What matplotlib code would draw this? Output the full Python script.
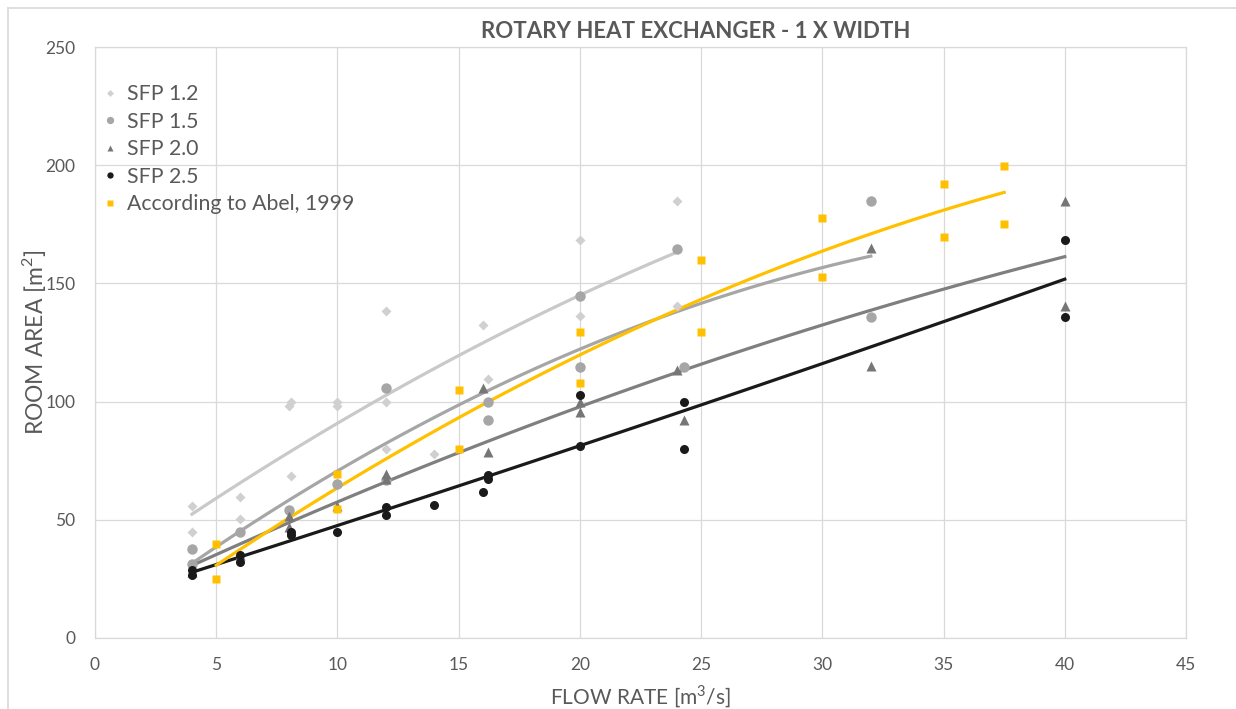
import matplotlib

matplotlib.use("Agg")
import matplotlib.pyplot as plt
import numpy as np

plt.rcParams["font.family"] = ["Lato", "DejaVu Sans"]
plt.rcParams["mathtext.fontset"] = "custom"
plt.rcParams["mathtext.rm"] = "Lato"

TEXT = "#595959"
GRID = "#d9d9d9"

# flow rate [m3/s] and room area [m2]
sfp12_x = [4, 4, 6, 6, 8, 8.1, 8.1, 10, 10, 12, 12, 12, 14, 16, 16.2, 20, 20, 24, 24]
sfp12_y = [55.8, 45, 59.8, 50.5, 98, 100, 68.7, 100, 98, 138.5, 100, 80, 77.8, 132.3, 109.4, 168.4, 136, 184.9, 140.6]

sfp15_x = [4, 4, 6, 8, 10, 12, 12, 16.2, 16.2, 20, 20, 24, 24.3, 32, 32]
sfp15_y = [37.5, 31.2, 44.7, 54.2, 65, 105.6, 66.8, 99.8, 92.1, 144.8, 114.5, 164.6, 114.5, 184.7, 135.9]

sfp20_x = [4, 6, 8, 8, 10, 12, 12, 16, 16.2, 20, 20, 24, 24.3, 32, 32, 40, 40]
sfp20_y = [28, 35, 51.5, 47, 56, 69.4, 67.3, 105.6, 78.6, 100, 95.5, 113.4, 92.2, 164.8, 115, 184.9, 140.4]

sfp25_x = [4, 4, 6, 6, 8.1, 8.1, 10, 12, 12, 14, 16, 16.2, 16.2, 20, 20, 24.3, 24.3, 40, 40]
sfp25_y = [26.7, 28.7, 32.3, 35.1, 43.6, 45, 44.7, 55.6, 52, 56.4, 61.8, 69, 67.3, 81.4, 103, 100, 80.1, 168.4, 135.9]

abel_x = [5, 5, 10, 10, 15, 15, 20, 20, 25, 25, 30, 30, 35, 35, 37.5, 37.5]
abel_y = [39.6, 24.8, 69.5, 54.7, 104.8, 79.8, 129.6, 107.7, 159.9, 129.6, 177.8, 152.8, 191.9, 169.8, 199.8, 175]

series = [
    ("SFP 1.2", sfp12_x, sfp12_y, "#d0d0d0", "#c9c9c9", "D", 5),
    ("SFP 1.5", sfp15_x, sfp15_y, "#a6a6a6", "#a6a6a6", "o", 7.5),
    ("SFP 2.0", sfp20_x, sfp20_y, "#767676", "#7f7f7f", "^", 6.5),
    ("SFP 2.5", sfp25_x, sfp25_y, "#1a1a1a", "#1a1a1a", "o", 6.5),
    ("According to Abel, 1999", abel_x, abel_y, "#ffc000", "#ffc000", "s", 6),
]

fig = plt.figure(figsize=(12.36, 7.09), dpi=100)
ax = fig.add_axes([95 / 1236, 1 - 638 / 709, (1186 - 95) / 1236, (638 - 47) / 709])

# trendlines first (2nd order polynomial, like the spreadsheet)
for label, xs, ys, mcol, lcol, marker, ms in series:
    xs = np.array(xs)
    coef = np.polyfit(xs, ys, 2)
    xx = np.linspace(xs.min(), xs.max(), 100)
    ax.plot(xx, np.polyval(coef, xx), color=lcol, lw=2.3, zorder=2)

for label, xs, ys, mcol, lcol, marker, ms in series:
    ax.plot(xs, ys, ls="none", marker=marker, ms=ms, color=mcol, mec="none",
            label=label, zorder=3)

ax.set_xlim(0, 45)
ax.set_ylim(0, 250)
ax.set_xticks(np.arange(0, 46, 5))
ax.set_yticks(np.arange(0, 251, 50))
ax.grid(True, color=GRID, lw=0.9)
ax.set_axisbelow(True)
ax.tick_params(length=0, labelsize=12.5, colors=TEXT, pad=14)
for s in ax.spines.values():
    s.set_color(GRID)
    s.set_linewidth(0.9)

ax.set_xlabel(r"FLOW RATE [m$^{3}$/s]", fontsize=15, color=TEXT, labelpad=7)
ax.set_ylabel(r"ROOM AREA [m$^{2}$]", fontsize=16.5, color=TEXT, labelpad=-2)
# title is centred on the whole chart area, not on the plot area
fig.text(696 / 1236, 1 - 31 / 709, "ROTARY HEAT EXCHANGER - 1 X WIDTH", fontsize=16,
         fontweight="bold", color=TEXT, ha="center", va="center")

leg = ax.legend(loc="upper left", bbox_to_anchor=(0.004, 0.937), frameon=False,
                fontsize=15.3, labelcolor=TEXT, handletextpad=0.28, markerscale=0.7,
                labelspacing=0.35, borderaxespad=0, borderpad=0, handlelength=1.0)

# outer chart border
fig.add_artist(plt.Line2D([8 / 1236, 8 / 1236], [0, 1 - 8 / 709], color=GRID, lw=1.2))
fig.add_artist(plt.Line2D([8 / 1236, 1], [1 - 8 / 709, 1 - 8 / 709], color=GRID, lw=1.2))

fig.savefig("out.png", dpi=100)
